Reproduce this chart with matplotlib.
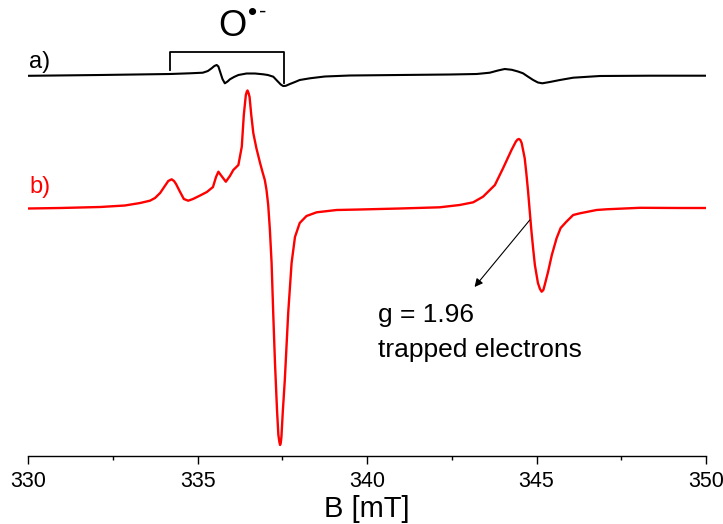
import matplotlib
matplotlib.use("Agg")
import matplotlib.pyplot as plt
from matplotlib.ticker import MultipleLocator

plt.rcParams['font.family'] = ['Liberation Sans', 'DejaVu Sans']

# ---- data (field in mT, intensity in arbitrary units) ----
b_field_red = [330.0, 330.94, 332.12, 332.85, 333.30, 333.59, 333.74, 333.89, 334.03, 334.13,
               334.23, 334.30, 334.36, 334.48, 334.59, 334.72, 334.86, 335.07, 335.27, 335.45,
               335.54, 335.61, 335.68, 335.83, 335.95, 336.05, 336.20, 336.30, 336.36, 336.42,
               336.45, 336.47, 336.50, 336.53, 336.58, 336.64, 336.73, 336.84, 336.92, 336.98,
               337.03, 337.08, 337.13, 337.18, 337.23, 337.28, 337.34, 337.38, 337.41, 337.43,
               337.45, 337.47, 337.51, 337.57, 337.67, 337.77, 337.87, 338.01, 338.21, 338.51,
               339.10, 339.78, 340.96, 342.14, 342.73, 343.13, 343.42, 343.77, 344.01, 344.26,
               344.39, 344.44, 344.48, 344.52, 344.56, 344.65, 344.70, 344.75, 344.80, 344.85,
               344.90, 344.95, 345.00, 345.04, 345.10, 345.15, 345.20, 345.24, 345.34, 345.45,
               345.59, 345.71, 345.88, 346.08, 346.28, 346.77, 347.06, 348.05, 349.23, 350.0]
signal_red = [1.5, 2, 3, 4.5, 7, 9.3, 12, 17, 24, 29,
              30.7, 29, 26, 18, 11, 9.3, 11, 14.5, 18, 23,
              33, 38.3, 35, 28.3, 34, 40, 45, 63.3, 95, 115,
              118.5, 119.5, 117, 113, 95, 77, 62, 47, 37, 30,
              20, 5, -20, -53, -105, -153, -200, -225, -232, -235,
              -233, -227, -202, -170, -103, -53, -27, -13, -6, -2.3,
              0, 0.5, 1.5, 2.7, 5, 7.7, 13.3, 25, 41.7, 60,
              68.5, 70.5, 71, 70, 67, 51.7, 36, 18.3, -2, -21.7,
              -39, -55, -65, -73, -79, -81.7, -80, -75, -61.7, -45,
              -28.3, -18, -11.7, -5, -3.3, 0, 0.7, 2.2, 2, 2]

b_field_black = [330.02, 332.12, 334.18, 334.77, 335.15, 335.30, 335.41, 335.49, 335.56, 335.61,
                 335.66, 335.73, 335.80, 335.88, 335.95, 336.07, 336.20, 336.44, 336.69, 336.93,
                 337.07, 337.23, 337.37, 337.45, 337.52, 337.60, 337.72, 337.87, 338.01, 338.31,
                 338.75, 339.49, 340.96, 342.44, 343.23, 343.62, 343.86, 344.06, 344.27, 344.45,
                 344.60, 344.74, 344.90, 345.04, 345.17, 345.39, 345.69, 346.08, 346.87, 348.34,
                 350.0]
signal_black = [-0.8, 0, 1, 1.7, 2.3, 4, 6.7, 9, 10, 8.5,
                3.3, -4, -8.3, -6.5, -4.3, -2, 0, 1.5, 1.5, 0.7,
                0, -1.7, -6.7, -9.5, -11, -10.8, -9, -7, -5, -3.3,
                -1.5, -0.5, 0, 0.5, 1, 2.3, 4.5, 6, 5.2, 3.5,
                1.7, -1.5, -5, -7.5, -8.3, -7, -5, -2.7, -1, -0.7,
                -0.7]

x_ticks = [330, 335, 340, 345, 350]
x_tick_labels = ['330', '335', '340', '345', '350']

# ---- layout ----
offset_red = 245.7
offset_black = 380.7

fig = plt.figure(figsize=(7.23, 5.24), dpi=100)
ax = fig.add_axes([28.3 / 723, 68.3 / 524, (706 - 28.3) / 723, 455.7 / 524])

ax.plot(b_field_black, [v + offset_black for v in signal_black], color='black', lw=1.5,
        solid_joinstyle='round')
ax.plot(b_field_red, [v + offset_red for v in signal_red], color='#ff0000', lw=1.7,
        solid_joinstyle='round')

ax.set_xlim(330, 350)
ax.set_ylim(0, 455.7)
ax.set_xticks(x_ticks)
ax.set_xticklabels(x_tick_labels)
ax.xaxis.set_minor_locator(MultipleLocator(2.5))
ax.tick_params(axis='x', which='major', length=6, width=1.0, labelsize=15.5, pad=5)
ax.tick_params(axis='x', which='minor', length=3, width=1.0)
ax.set_yticks([])
for s in ['left', 'top', 'right']:
    ax.spines[s].set_visible(False)
ax.spines['bottom'].set_linewidth(1.0)
ax.set_xlabel('B [mT]', fontsize=21, labelpad=2)

# bracket for O radical
ax.plot([334.18, 334.18, 337.55, 337.55], [386.2, 404.0, 404.0, 372.7],
        color='black', lw=1.3, clip_on=False)
ax.text(336.02, 429.7, 'O', fontsize=26, ha='center', va='center')
ax.text(336.47, 442.5, '\u2022', fontsize=19, ha='left', va='center')
ax.text(336.93, 444.0, '-', fontsize=16, ha='center', va='center')

# trace labels
ax.text(330.02, 393.7, 'a)', fontsize=17, ha='left', va='center', color='black')
ax.text(330.02, 268.7, 'b)', fontsize=17, ha='left', va='center', color='#ff0000')

# annotation
ax.annotate('', xy=(343.17, 168.7), xytext=(344.80, 235.7),
            arrowprops=dict(arrowstyle='-|>', color='black', lw=0.8,
                            mutation_scale=12, shrinkA=0, shrinkB=0))
ax.text(340.31, 133.7, 'g = 1.96', fontsize=19, ha='left', va='baseline')
ax.text(340.31, 98.7, 'trapped electrons', fontsize=19, ha='left', va='baseline')

fig.savefig('out.png', dpi=100)
